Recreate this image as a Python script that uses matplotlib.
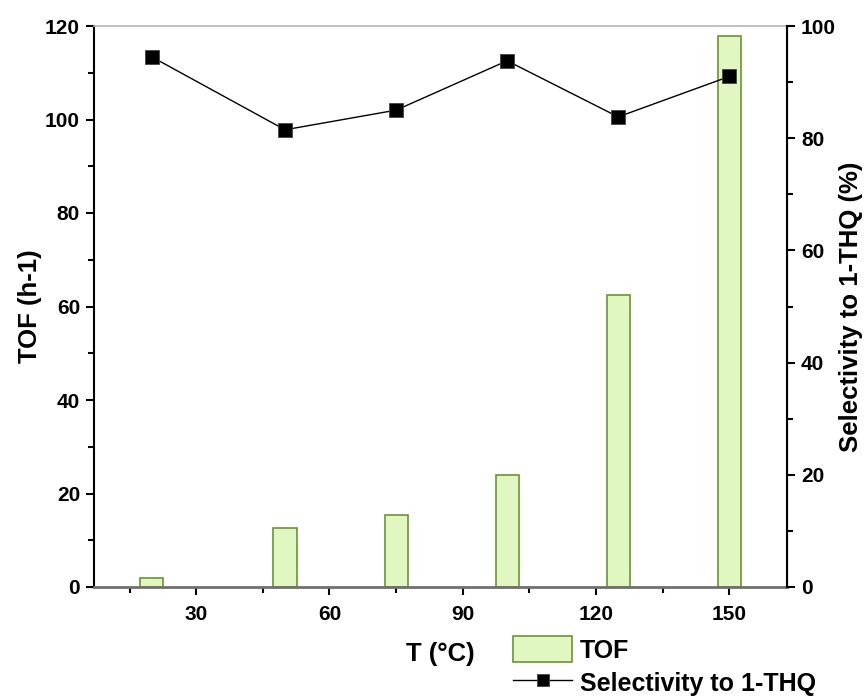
import numpy as np
import matplotlib
matplotlib.use("Agg")
import matplotlib.pyplot as plt
from matplotlib.ticker import MultipleLocator

plt.rcParams["font.family"] = ["Liberation Sans", "DejaVu Sans"]
plt.rcParams["font.weight"] = "bold"

# データ
temps = [20, 50, 75, 100, 125, 150]
tof = [2.0, 12.7, 15.4, 23.9, 62.4, 117.9]
selectivity = [94.5, 81.5, 85.0, 93.8, 83.8, 91.0]

BAR_FACE = "#e0f7c1"
BAR_EDGE = "#6b9432"

fig = plt.figure(figsize=(8.66, 6.97), dpi=100)
ax = fig.add_axes([94 / 866, 110 / 697, 693 / 866, 561 / 697])
ax2 = ax.twinx()

bars = ax.bar(temps, tof, width=5.2, color=BAR_FACE, edgecolor=BAR_EDGE,
              linewidth=1.2, label="TOF", zorder=2)
line, = ax2.plot(temps, selectivity, color="black", lw=1, marker="s",
                 ms=10, mfc="black", mec="#444444", mew=0.6,
                 label="Selectivity to 1-THQ")

ax.set_xlim(7, 163)
ax.set_ylim(0, 120)
ax2.set_ylim(0, 100)

ax.xaxis.set_major_locator(MultipleLocator(30))
ax.xaxis.set_minor_locator(MultipleLocator(15))
ax.yaxis.set_major_locator(MultipleLocator(20))
ax.yaxis.set_minor_locator(MultipleLocator(10))
ax2.yaxis.set_major_locator(MultipleLocator(20))
ax2.yaxis.set_minor_locator(MultipleLocator(10))

for a in (ax, ax2):
    a.tick_params(which="major", direction="out", length=6, width=1.5,
                  labelsize=15, pad=4)
    a.tick_params(which="minor", direction="out", length=4, width=1.5)
    for t in a.get_xticklabels() + a.get_yticklabels():
        t.set_fontweight("bold")

ax.tick_params(axis="x", which="major", pad=7)

# 軸線の色
ax.spines["top"].set_color("#b5b5b5")
ax.spines["top"].set_linewidth(1.2)
ax.spines["bottom"].set_color("#707070")
ax.spines["bottom"].set_linewidth(2.0)
ax.spines["left"].set_linewidth(1.5)
ax2.spines["top"].set_visible(False)
ax2.spines["bottom"].set_visible(False)
ax2.spines["left"].set_visible(False)
ax2.spines["right"].set_linewidth(1.5)

ax.set_xlabel("T (°C)", fontsize=18.5, fontweight="bold")
ax.set_ylabel("TOF (h-1)", fontsize=18.5, fontweight="bold")
ax2.set_ylabel("Selectivity to 1-THQ (%)", fontsize=18.5, fontweight="bold")
ax.xaxis.set_label_coords(0.5, -0.098)
ax.yaxis.set_label_coords(-0.075, 0.5)
ax2.yaxis.set_label_coords(1.075, 0.5)

fig.legend([bars, line], ["TOF", "Selectivity to 1-THQ"],
           loc="upper left", bbox_to_anchor=(513 / 866, 1 - 636 / 697),
           frameon=False, borderpad=0, borderaxespad=0,
           handlelength=2.36, handleheight=1.25, handletextpad=0.32,
           labelspacing=0.25, markerscale=0.85,
           prop={"size": 18, "weight": "bold"})

fig.savefig("out.png", dpi=100)
plt.close(fig)
